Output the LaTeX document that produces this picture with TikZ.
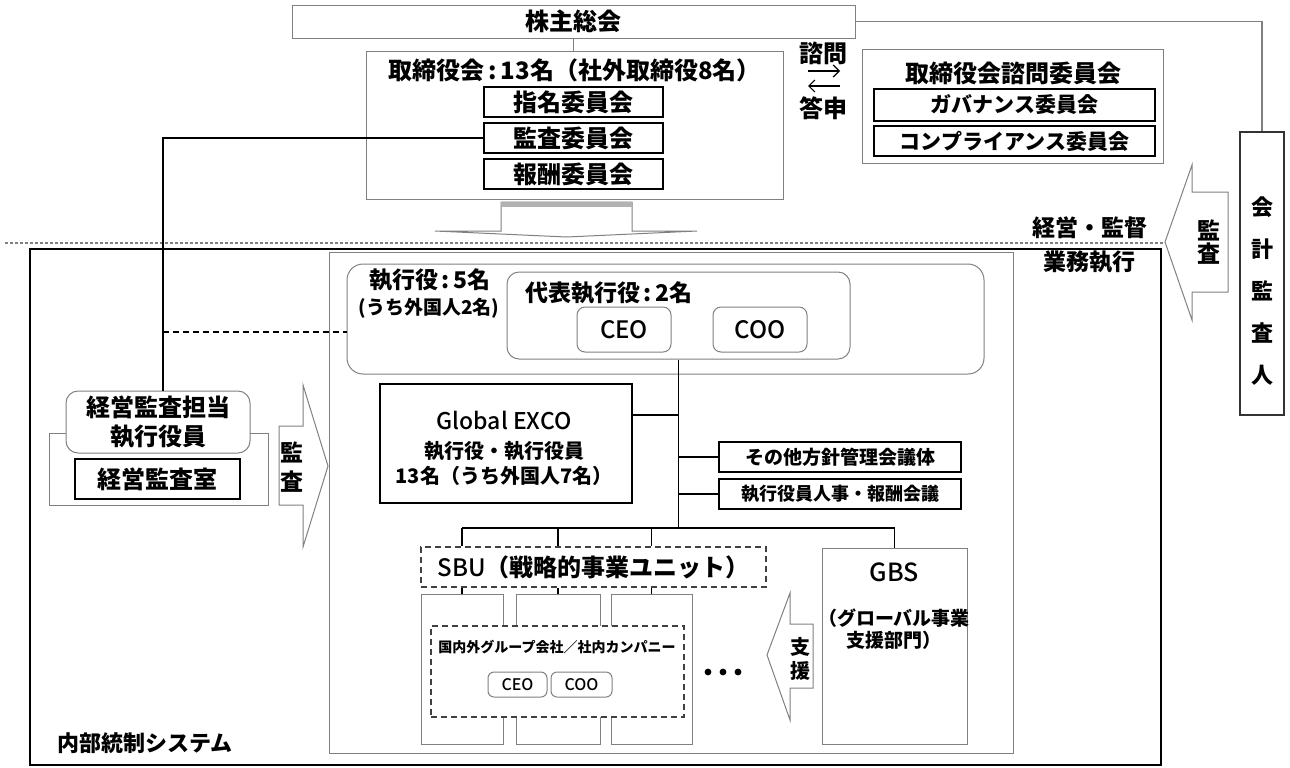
\documentclass[tikz,border=0pt]{standalone}
\usepackage{fontspec}
\setmainfont{Noto Sans CJK JP}
\newfontfamily\medfont{Noto Sans CJK JP}[UprightFont=* Medium]
\usetikzlibrary{arrows.meta}

\begin{document}
\begin{tikzpicture}[x=0.5pt,y=-0.5pt,
        gbox/.style={draw=gray,line width=.5pt,inner sep=0pt},
        bbox/.style={draw=black,line width=1pt,inner sep=0pt},
        rbox/.style={draw=gray,line width=.5pt,inner sep=0pt,rounded corners=6pt},
        dbox/.style={draw=black!75,line width=.6pt,dash pattern=on 3pt off 2pt,inner sep=0pt},
        con/.style={draw=black,line width=.8pt},
        gcon/.style={draw=gray,line width=.6pt},
        barrow/.style={draw=gray,line width=.5pt,fill=white},
        big/.style={inner sep=0pt,font=\bfseries\fontsize{12}{14.5}\selectfont},
        mid/.style={inner sep=0pt,font=\bfseries\fontsize{10.5}{13}\selectfont},
        small/.style={inner sep=0pt,font=\bfseries\fontsize{9.5}{11.5}\selectfont}]
    \useasboundingbox (0,0) rectangle (1290,767);

    % governance side
    \node[gbox,big,minimum width=281.5pt,minimum height=16.5pt] (kabunushi) at (573.5,21.5) {株主総会};
    \node[gbox,minimum width=208.5pt,minimum height=74pt] (board) at (574.5,125) {};
    \node[big] (boardtxt) at (574.5,70) {取締役会\,:\,13名（社外取締役8名）};
    \node[bbox,big,minimum width=89.5pt,minimum height=15pt] (shimei) at (573.5,102) {指名委員会};
    \node[bbox,big,minimum width=89.5pt,minimum height=15pt] (kansa) at (573.5,138) {監査委員会};
    \node[bbox,big,minimum width=89.5pt,minimum height=15pt] (hoshu) at (573.5,174) {報酬委員会};

    \node[big] (shimon) at (823,53) {諮問};
    \node[big] (toshin) at (823,108) {答申};
    \coordinate (sa) at (808,71);
    \coordinate (sb) at (840,71);
    \coordinate (ta) at (840,86);
    \coordinate (tb) at (808,86);
    \draw[-{Straight Barb[length=3pt]},line width=.6pt] (sa) -- (sb);
    \draw[-{Straight Barb[length=3pt]},line width=.6pt] (ta) -- (tb);

    \node[gbox,minimum width=150.5pt,minimum height=57pt] (advisory) at (1012.5,106) {};
    \node[big] (advtxt) at (1013,73) {取締役会諮問委員会};
    \node[bbox,mid,minimum width=140.5pt,minimum height=16pt] (gov) at (1014.5,105) {ガバナンス委員会};
    \node[bbox,mid,minimum width=140.5pt,minimum height=15pt] (comp) at (1014.5,141) {コンプライアンス委員会};

    \node[draw=black!80,line width=.7pt,inner sep=0pt,minimum width=22pt,minimum height=141.5pt] (kaikei) at (1262,273.5) {};
    \node[inner sep=0pt,align=center,font=\bfseries\fontsize{11}{21}\selectfont] (kaikeitxt) at (1262,291) {会\\計\\監\\査\\人};

    \draw[gcon] (kabunushi.south) -- (kabunushi.south |- board.north);
    \draw[gcon] (kabunushi.east) -| (kaikei.north);

    % board -> execution
    \draw[barrow] (501,231) -- (501,202) -- (632,202) -- (632,231) -- (697,231) -- (566.5,237) -- (435,231) -- cycle;
    \fill[gray!60] (501,202) rectangle (632,207);

    \draw[gray,line width=.6pt,dash pattern=on 1.5pt off 1pt] (5,243) -- (1165,243);
    \node[big,font=\bfseries\fontsize{11.5}{14}\selectfont] (keiei) at (1090,228) {経営・監督};
    \node[big,font=\bfseries\fontsize{11.5}{14}\selectfont] (gyomu) at (1089,262) {業務執行};

    \draw[barrow] (1165,242) -- (1192,165) -- (1192,192) -- (1228,192) -- (1228,292) -- (1192,292) -- (1192,320) -- cycle;
    \node[inner sep=0pt,align=center,font=\bfseries\fontsize{11.5}{11.5}\selectfont] (kansaR) at (1209,242.5) {監\\査};

    % execution side
    \node[draw=black,line width=1.4pt,inner sep=0pt,minimum width=565.5pt,minimum height=258pt] (naibu) at (595.5,507) {};
    \node[gbox,minimum width=342pt,minimum height=250.5pt] (exec) at (671,502.5) {};
    \node[big,font=\bfseries\fontsize{11}{13}\selectfont,anchor=west] (naibutxt) at (57,743) {内部統制システム};

    \node[rbox,rounded corners=8pt,minimum width=318.5pt,minimum height=55pt] (shikko) at (665.5,319) {};
    \node[big,font=\bfseries\fontsize{11.5}{14}\selectfont] (shikkotxt) at (430,280) {執行役\,:\,5名};
    \node[small] (shikkosub) at (429,308) {(うち外国人2名)};
    \node[rbox,minimum width=171.5pt,minimum height=43.5pt] (daihyo) at (678.5,315.5) {};
    \node[big,font=\bfseries\fontsize{11.5}{14}\selectfont] (daihyotxt) at (609,293) {代表執行役\,:\,2名};
    \node[rbox,rounded corners=4pt,font=\medfont\fontsize{12}{14}\selectfont,minimum width=47pt,minimum height=22.5pt] (ceo) at (624,329.5) {CEO};
    \node[rbox,rounded corners=4pt,font=\medfont\fontsize{12}{14}\selectfont,minimum width=47pt,minimum height=22.5pt] (coo) at (760,329.5) {COO};

    \node[bbox,minimum width=126pt,minimum height=59.5pt] (exco) at (506,443.5) {};
    \node[inner sep=0pt,font=\medfont\fontsize{11.5}{14}\selectfont] (excotxt) at (504,420) {Global EXCO};
    \node[inner sep=0pt,font=\bfseries\fontsize{10}{12}\selectfont] (excosub) at (504,451) {執行役・執行役員};
    \node[inner sep=0pt,font=\bfseries\fontsize{10}{12}\selectfont] (excosub2) at (504,476) {13名（うち外国人7名）};

    \node[bbox,small,minimum width=121pt,minimum height=15pt] (sonota) at (840,457) {その他方針管理会議体};
    \node[bbox,small,font=\bfseries\fontsize{9}{11}\selectfont,minimum width=121pt,minimum height=15pt] (jinji) at (840,494) {執行役員人事・報酬会議};

    \node[dbox,minimum width=172.5pt,minimum height=20pt,font=\medfont\fontsize{12}{14}\selectfont] (sbu) at (593.5,567) {SBU\bfseries（戦略的事業ユニット）};
    \node[gbox,minimum width=72.5pt,minimum height=98pt] (gbs) at (894.5,646) {};
    \node[inner sep=0pt,font=\medfont\fontsize{12.5}{15}\selectfont] (gbstxt) at (894,572) {GBS};
    \node[inner sep=0pt,align=center,font=\bfseries\fontsize{9.5}{11}\selectfont] (gbssub) at (894,629) {（グローバル事業\\支援部門）};

    \node[gbox,minimum width=41pt,minimum height=75pt] (tall1) at (462,669) {};
    \node[gbox,minimum width=42pt,minimum height=75pt] (tall2) at (558,669) {};
    \node[gbox,minimum width=40.5pt,minimum height=75pt] (tall3) at (651.5,669) {};
    \node[dbox,fill=white,minimum width=126.5pt,minimum height=45.5pt] (group) at (557.5,671.5) {};
    \node[inner sep=0pt,font=\bfseries\fontsize{7}{9}\selectfont] (grouptxt) at (557,647) {国内外グループ会社／社内カンパニー};
    \node[rbox,rounded corners=3pt,font=\medfont\fontsize{8}{10}\selectfont,minimum width=29.5pt,minimum height=12.5pt] (gceo) at (517.5,684.5) {CEO};
    \node[rbox,rounded corners=3pt,font=\medfont\fontsize{8}{10}\selectfont,minimum width=30.5pt,minimum height=12.5pt] (gcoo) at (581.5,684.5) {COO};
    \foreach \x in {708,723,738}
        \fill (\x,672) circle (1.7pt);

    \draw[barrow] (767,655) -- (790,593) -- (790,624) -- (813,624) -- (813,688) -- (790,688) -- (790,720) -- cycle;
    \node[inner sep=0pt,align=center,font=\bfseries\fontsize{10}{12}\selectfont] (shien) at (800,659) {支\\援};

    % audit
    \node[gbox,minimum width=109.5pt,minimum height=36pt] (tantobg) at (158.5,469) {};
    \node[rbox,fill=white,big,align=center,minimum width=92pt,minimum height=31pt] (tanto) at (158,422) {経営監査担当\\執行役員};
    \node[bbox,big,minimum width=82.5pt,minimum height=20pt] (shitsu) at (157.5,479) {経営監査室};
    \draw[barrow] (279,426) -- (303,426) -- (303,385) -- (328,466) -- (303,547) -- (303,505) -- (279,505) -- cycle;
    \node[inner sep=0pt,align=center,font=\bfseries\fontsize{11.5}{14.5}\selectfont] (kansaL) at (292,467.5) {監\\査};

    % connectors
    \draw[con] (kansa.west) -| ([xshift=2.5pt]tanto.north);
    \coordinate (dj) at (163,332);
    \draw[con,dash pattern=on 3pt off 2pt] (dj) -- (dj -| shikko.west);
    \coordinate (bus) at (678.5,528);
    \coordinate (t1) at (678.5,415);
    \draw[con] (daihyo.south) -- (bus);
    \draw[con] (t1) -- (t1 -| exco.east);
    \draw[con] (sonota.west) -- (sonota.west -| bus);
    \draw[con] (jinji.west) -- (jinji.west -| bus);
    \draw[con] (tall1.north |- bus) -- (gbs.north |- bus);
    \draw[con] (gbs.north |- bus) -- (gbs.north);
    \foreach \t in {tall1,tall2,tall3} {
        \draw[con] (\t.north |- bus) -- (\t.north |- sbu.north);
        \draw[con] (\t.north |- sbu.south) -- (\t.north);
    }
\end{tikzpicture}
\end{document}
